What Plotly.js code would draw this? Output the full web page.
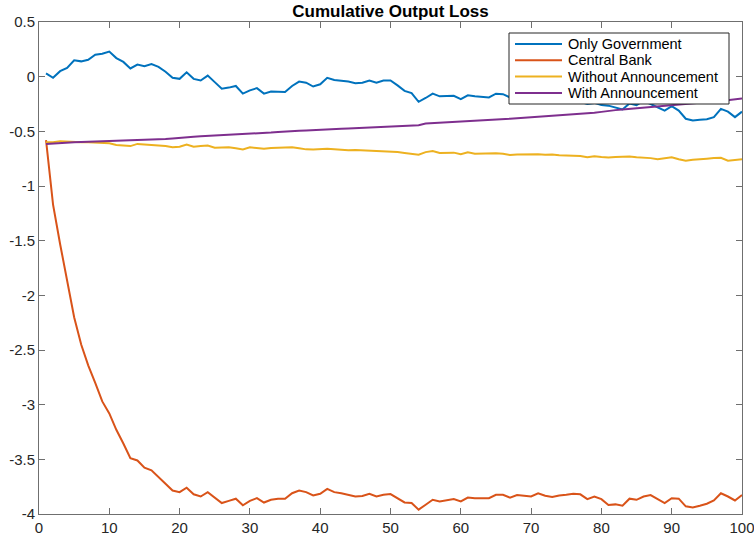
<!DOCTYPE html>
<html>
<head>
<meta charset="utf-8">
<script src="https://cdn.plot.ly/plotly-3.0.1.min.js"></script>
<style>
  html, body { margin: 0; padding: 0; background: #ffffff; }
  #chart { width: 754px; height: 537px; }
</style>
</head>
<body>
<div id="chart"></div>
<script>
const periods = [1,2,3,4,5,6,7,8,9,10,11,12,13,14,15,16,17,18,19,20,21,22,23,24,25,26,27,28,29,30,31,32,33,34,35,36,37,38,39,40,41,42,43,44,45,46,47,48,49,50,51,52,53,54,55,56,57,58,59,60,61,62,63,64,65,66,67,68,69,70,71,72,73,74,75,76,77,78,79,80,81,82,83,84,85,86,87,88,89,90,91,92,93,94,95,96,97,98,99,100];

const onlyGovernment = [0.03,-0.01,0.05,0.08,0.15,0.14,0.155,0.2,0.21,0.23,0.17,0.135,0.075,0.11,0.095,0.115,0.09,0.045,-0.01,-0.02,0.04,-0.02,-0.035,0.01,-0.05,-0.11,-0.1,-0.085,-0.155,-0.125,-0.105,-0.155,-0.135,-0.135,-0.14,-0.085,-0.045,-0.055,-0.09,-0.07,-0.01,-0.03,-0.035,-0.045,-0.06,-0.055,-0.035,-0.055,-0.035,-0.035,-0.08,-0.13,-0.15,-0.23,-0.195,-0.155,-0.18,-0.178,-0.175,-0.205,-0.17,-0.18,-0.185,-0.19,-0.156,-0.16,-0.19,-0.2,-0.19,-0.21,-0.2,-0.22,-0.21,-0.23,-0.22,-0.24,-0.23,-0.25,-0.24,-0.26,-0.265,-0.28,-0.3,-0.245,-0.26,-0.22,-0.25,-0.28,-0.31,-0.27,-0.31,-0.385,-0.4,-0.395,-0.39,-0.37,-0.295,-0.32,-0.37,-0.32];

const centralBank = [-0.58,-1.17,-1.53,-1.88,-2.2,-2.45,-2.64,-2.8,-2.97,-3.08,-3.23,-3.355,-3.49,-3.51,-3.576,-3.6,-3.66,-3.72,-3.785,-3.8,-3.76,-3.82,-3.84,-3.8,-3.85,-3.9,-3.88,-3.86,-3.92,-3.88,-3.855,-3.895,-3.87,-3.86,-3.86,-3.81,-3.785,-3.8,-3.83,-3.815,-3.77,-3.8,-3.81,-3.825,-3.84,-3.835,-3.815,-3.84,-3.824,-3.818,-3.855,-3.894,-3.9,-3.96,-3.915,-3.87,-3.885,-3.876,-3.864,-3.885,-3.85,-3.855,-3.858,-3.855,-3.824,-3.824,-3.85,-3.827,-3.833,-3.84,-3.81,-3.833,-3.845,-3.83,-3.824,-3.815,-3.82,-3.864,-3.84,-3.864,-3.918,-3.912,-3.924,-3.86,-3.87,-3.84,-3.827,-3.86,-3.9,-3.855,-3.86,-3.93,-3.94,-3.924,-3.906,-3.876,-3.81,-3.84,-3.876,-3.827];

const withoutAnnouncement = [-0.6,-0.6,-0.59,-0.595,-0.6,-0.6,-0.6,-0.605,-0.605,-0.61,-0.625,-0.63,-0.635,-0.615,-0.62,-0.62,-0.628,-0.635,-0.646,-0.64,-0.62,-0.64,-0.635,-0.63,-0.65,-0.648,-0.645,-0.655,-0.665,-0.646,-0.652,-0.66,-0.652,-0.65,-0.648,-0.646,-0.655,-0.665,-0.667,-0.662,-0.66,-0.665,-0.67,-0.672,-0.67,-0.673,-0.673,-0.676,-0.68,-0.685,-0.69,-0.698,-0.705,-0.713,-0.69,-0.68,-0.698,-0.696,-0.695,-0.71,-0.692,-0.705,-0.703,-0.7,-0.7,-0.706,-0.716,-0.712,-0.71,-0.713,-0.71,-0.715,-0.712,-0.718,-0.72,-0.72,-0.725,-0.737,-0.727,-0.735,-0.74,-0.735,-0.73,-0.73,-0.736,-0.74,-0.745,-0.756,-0.745,-0.737,-0.755,-0.768,-0.76,-0.752,-0.75,-0.745,-0.742,-0.768,-0.762,-0.755];

const withAnnouncement = [-0.615,-0.61,-0.605,-0.603,-0.6,-0.598,-0.596,-0.594,-0.592,-0.59,-0.588,-0.586,-0.583,-0.58,-0.578,-0.575,-0.572,-0.57,-0.565,-0.558,-0.552,-0.55,-0.546,-0.543,-0.54,-0.535,-0.53,-0.526,-0.522,-0.52,-0.516,-0.512,-0.51,-0.505,-0.5,-0.498,-0.495,-0.492,-0.49,-0.486,-0.482,-0.48,-0.476,-0.473,-0.47,-0.466,-0.462,-0.46,-0.456,-0.452,-0.45,-0.447,-0.445,-0.444,-0.428,-0.425,-0.422,-0.418,-0.414,-0.41,-0.405,-0.402,-0.4,-0.398,-0.394,-0.39,-0.385,-0.38,-0.376,-0.37,-0.365,-0.36,-0.356,-0.352,-0.348,-0.342,-0.338,-0.334,-0.33,-0.322,-0.312,-0.306,-0.3,-0.295,-0.29,-0.284,-0.278,-0.272,-0.266,-0.262,-0.258,-0.254,-0.248,-0.242,-0.234,-0.228,-0.222,-0.216,-0.21,-0.2];

const seriesNames = ["Only Government", "Central Bank", "Without Announcement", "With Announcement"];
const seriesColors = ["#0072BD", "#D95319", "#EDB120", "#7E2F8E"];

const xTickVals = [0,10,20,30,40,50,60,70,80,90,100];
const xTickText = ["0","10","20","30","40","50","60","70","80","90","100"];
const yTickVals = [0.5,0,-0.5,-1,-1.5,-2,-2.5,-3,-3.5,-4];
const yTickText = ["0.5","0","-0.5","-1","-1.5","-2","-2.5","-3","-3.5","-4"];

const chartTitle = "Cumulative Output Loss";

const seriesData = [onlyGovernment, centralBank, withoutAnnouncement, withAnnouncement];
const traces = seriesData.map((ys, i) => ({
  x: periods,
  y: ys,
  type: "scatter",
  mode: "lines",
  name: seriesNames[i],
  showlegend: false,
  line: { color: seriesColors[i], width: 2 }
}));

const W = 754, H = 537;
const margin = { l: 39, r: 12, t: 22, b: 23 };
const plotW = W - margin.l - margin.r;
const plotH = H - margin.t - margin.b;
const px2x = p => (p - margin.l) / plotW;
const px2y = p => (H - margin.b - p) / plotH;

const axisColor = "#6f6f6f";
const fontFamily = "Liberation Sans, Arial, Helvetica, sans-serif";

// MATLAB-style boxed legend with tight rows
const legBox = { left: 509, right: 729, top: 33, bottom: 104 };
const legRowTop = 44, legRowStep = 16.3;
const legLineX0 = 515, legLineX1 = 562, legTextX = 566;

const shapes = [{
  type: "rect", xref: "paper", yref: "paper",
  x0: px2x(legBox.left), x1: px2x(legBox.right),
  y0: px2y(legBox.bottom), y1: px2y(legBox.top),
  fillcolor: "#ffffff", line: { color: "#262626", width: 1 }, layer: "above"
}];
const annotations = [];
seriesNames.forEach((name, i) => {
  const yp = px2y(legRowTop + i * legRowStep);
  shapes.push({
    type: "line", xref: "paper", yref: "paper",
    x0: px2x(legLineX0), x1: px2x(legLineX1), y0: yp, y1: yp,
    line: { color: seriesColors[i], width: 2 }, layer: "above"
  });
  annotations.push({
    xref: "paper", yref: "paper", x: px2x(legTextX), y: yp,
    xanchor: "left", yanchor: "middle", showarrow: false,
    text: name, font: { family: fontFamily, size: 14.5, color: "#000000" }
  });
});

const layout = {
  width: W,
  height: H,
  paper_bgcolor: "#ffffff",
  plot_bgcolor: "#ffffff",
  margin: { l: margin.l, r: margin.r, t: margin.t, b: margin.b, pad: 0 },
  font: { family: fontFamily, color: "#262626", size: 15 },
  title: {
    text: "<b>" + chartTitle + "</b>",
    font: { family: fontFamily, size: 17, color: "#000000" },
    x: 0.518, xanchor: "center",
    y: 0.991, yanchor: "top"
  },
  showlegend: false,
  shapes: shapes,
  annotations: annotations,
  xaxis: {
    range: [0, 100],
    tickmode: "array",
    tickvals: xTickVals,
    ticktext: xTickText,
    ticks: "inside",
    ticklen: 6,
    tickwidth: 1,
    tickcolor: axisColor,
    showline: true,
    linecolor: axisColor,
    linewidth: 1,
    mirror: "allticks",
    showgrid: false,
    zeroline: false,
    ticklabeloverflow: "allow",
    tickfont: { family: fontFamily, size: 15, color: "#262626" },
    fixedrange: true
  },
  yaxis: {
    range: [-4, 0.5],
    tickmode: "array",
    tickvals: yTickVals,
    ticktext: yTickText,
    ticks: "inside",
    ticklen: 6,
    tickwidth: 1,
    tickcolor: axisColor,
    showline: true,
    linecolor: axisColor,
    linewidth: 1,
    mirror: "allticks",
    showgrid: false,
    zeroline: false,
    ticklabeloverflow: "allow",
    tickfont: { family: fontFamily, size: 15, color: "#262626" },
    fixedrange: true
  }
};

Plotly.newPlot("chart", traces, layout, { displayModeBar: false, staticPlot: true });
</script>
</body>
</html>
